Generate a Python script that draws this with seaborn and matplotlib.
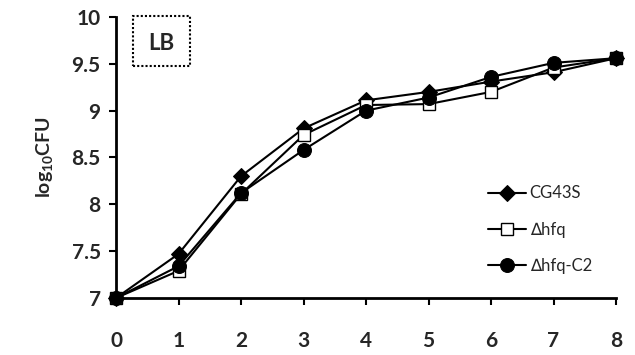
import matplotlib
matplotlib.use("Agg")
import matplotlib.pyplot as plt
import seaborn as sns
import pandas as pd
from matplotlib.patches import Rectangle

hours = [0, 1, 2, 3, 4, 5, 6, 7, 8]
cg43s = [7.0, 7.47, 8.30, 8.81, 9.11, 9.20, 9.31, 9.41, 9.56]
dhfq = [7.0, 7.29, 8.11, 8.74, 9.06, 9.07, 9.20, 9.46, 9.56]
dhfq_c2 = [7.0, 7.34, 8.12, 8.58, 9.00, 9.14, 9.36, 9.51, 9.56]
series_names = ["CG43S", "\u2206hfq", "\u2206hfq-C2"]
x_ticks = [0, 1, 2, 3, 4, 5, 6, 7, 8]
y_ticks = [7, 7.5, 8, 8.5, 9, 9.5, 10]
y_tick_labels = ["7", "7.5", "8", "8.5", "9", "9.5", "10"]

sns.set_theme(style="ticks")
plt.rcParams["font.family"] = ["Lato", "DejaVu Sans"]
plt.rcParams["mathtext.fontset"] = "custom"
plt.rcParams["mathtext.rm"] = "Lato:bold"
plt.rcParams["mathtext.bf"] = "Lato:bold"

df = pd.DataFrame({
    "hour": hours * 3,
    "cfu": cg43s + dhfq + dhfq_c2,
    "strain": [series_names[0]] * 9 + [series_names[1]] * 9 + [series_names[2]] * 9,
})

fig = plt.figure(figsize=(6.35, 3.55), dpi=100)
ax = fig.add_axes([0.1827, 0.1606, 0.7874, 0.7916])

styles = {
    series_names[0]: dict(marker="D", markersize=8.5, markerfacecolor="black", markeredgecolor="black"),
    series_names[1]: dict(marker="s", markersize=8, markerfacecolor="white", markeredgecolor="black", markeredgewidth=1.0),
    series_names[2]: dict(marker="o", markersize=10, markerfacecolor="black", markeredgecolor="black"),
}
for name in series_names:
    sub = df[df["strain"] == name]
    sns.lineplot(data=sub, x="hour", y="cfu", ax=ax, color="black", linewidth=1.5,
                 label=name, clip_on=False, zorder=3, **styles[name])

ax.set_xlim(0, 8)
ax.set_ylim(7, 10)
ax.set_xticks(x_ticks)
ax.set_xticklabels([str(t) for t in x_ticks], fontsize=15, fontweight="bold")
ax.set_yticks(y_ticks)
ax.set_yticklabels(y_tick_labels, fontsize=15, fontweight="bold")
ax.tick_params(axis="both", direction="out", length=5, width=1.5, color="black")
ax.tick_params(axis="x", pad=19)
ax.tick_params(axis="y", pad=6)
for s in ["top", "right"]:
    ax.spines[s].set_visible(False)
for s in ["left", "bottom"]:
    ax.spines[s].set_linewidth(2)
    ax.spines[s].set_color("black")
ax.set_xlabel("")
ax.set_ylabel("log$_{10}$CFU", fontsize=14, fontweight="bold", labelpad=11)

leg = ax.legend(loc="center left", bbox_to_anchor=(488 / 635, 1 - 229.5 / 355),
                bbox_transform=fig.transFigure, frameon=False, fontsize=12,
                handlelength=2.3, handletextpad=0.2, labelspacing=1.2,
                borderaxespad=0, borderpad=0)

box = Rectangle((133, 289), 57, 50, transform=None, fill=False, linestyle=(0, (1, 1)),
                linewidth=1.5, edgecolor="black")
fig.patches.append(box)
fig.text(161.5 / 635, 1 - 44 / 355, "LB", ha="center", va="center", fontsize=16, fontweight="bold")

fig.savefig("out.png", dpi=100)
